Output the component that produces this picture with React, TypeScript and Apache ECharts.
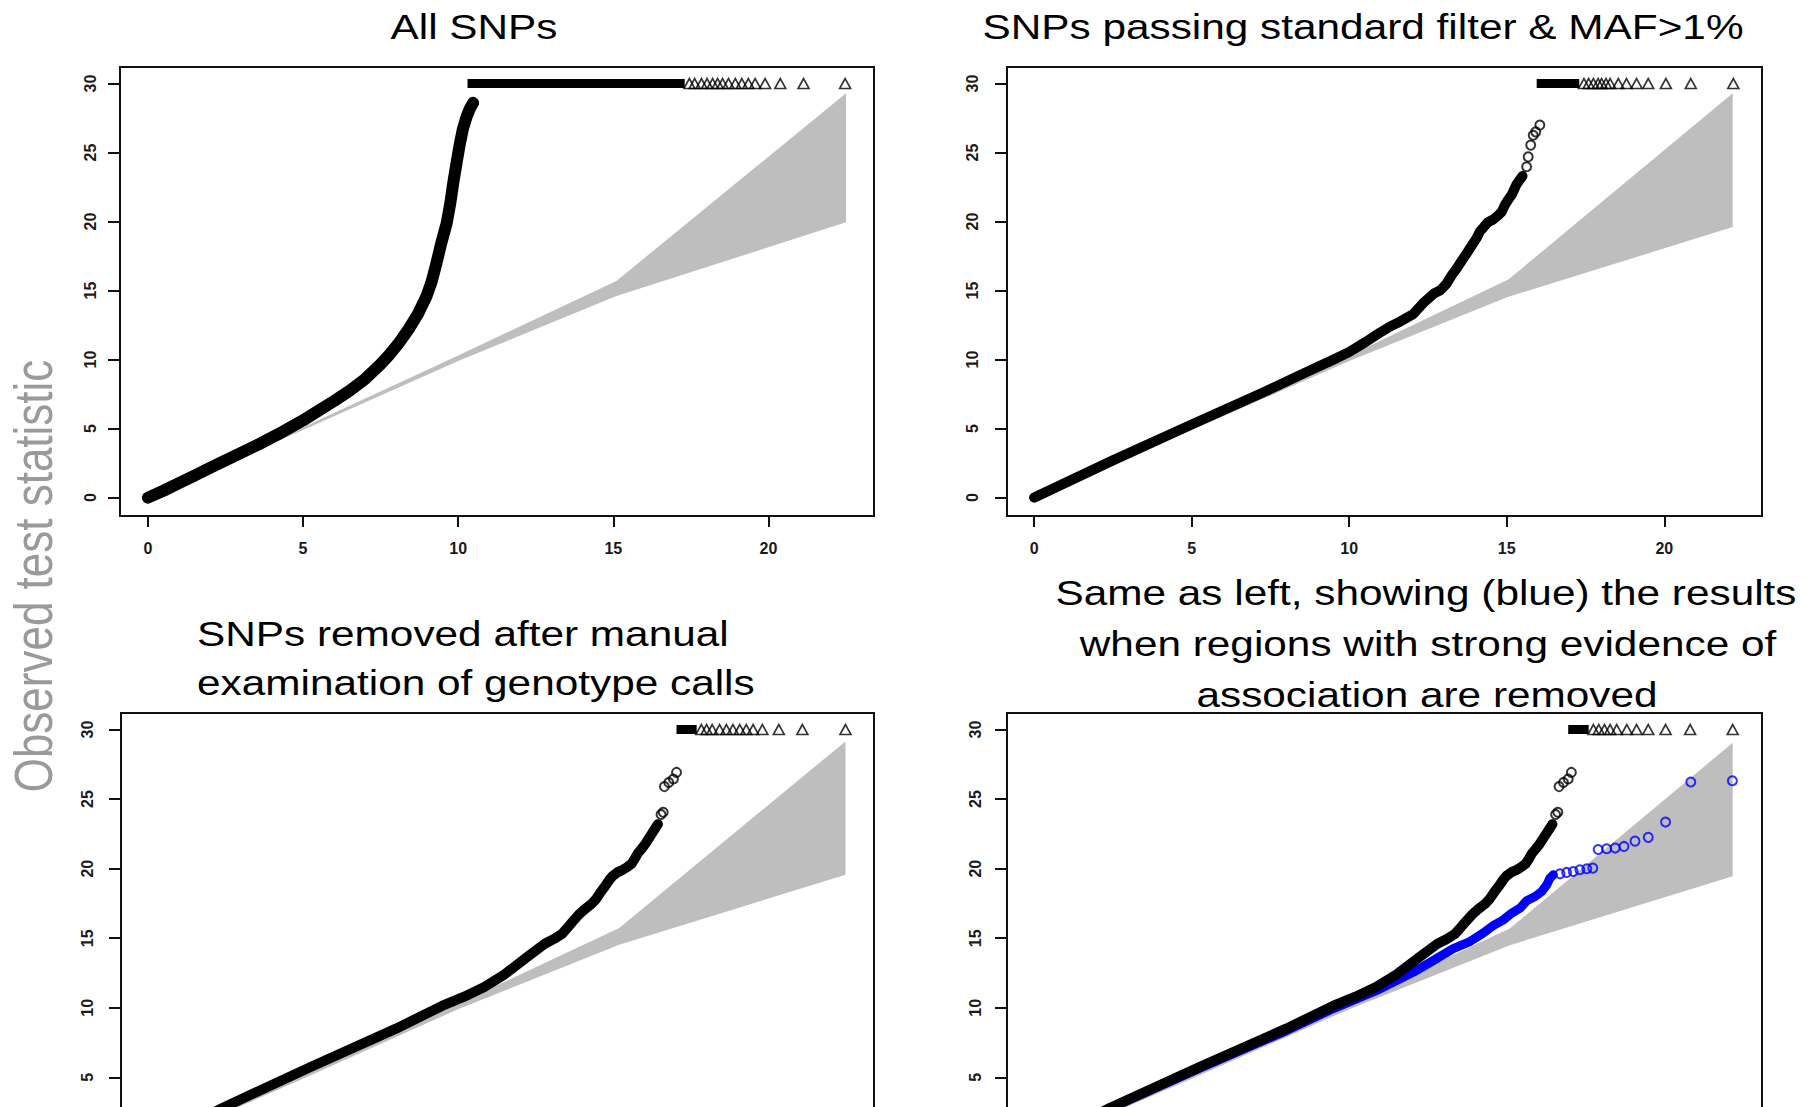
import React, { useEffect, useRef } from "react";
import * as echarts from "echarts";

const FONT = '"Liberation Sans", Arial, Helvetica, sans-serif';

// Tick positions shared by the four Q-Q panels
const xTickValues = [0, 5, 10, 15, 20];
const yTickValues = [0, 5, 10, 15, 20, 25, 30];
// The lower panels run past the bottom edge, so only these labels show
const yTickValuesLower = [5, 10, 15, 20, 25, 30];

// Statistics above this value are drawn as triangles on the cap line
const CAP = 30;

// Concentration band per panel: [expected, upper, lower]
const bandAll = [[0, 0, 0], [5, 5.1, 4.9], [10, 10.3, 9.9], [15.1, 15.7, 14.6], [22.5, 29.3, 19.95]];
const bandFiltered = [[0, 0, 0], [5, 5.1, 4.9], [10, 10.3, 9.9], [15.05, 15.8, 14.55], [22.17, 29.3, 19.6]];
const bandManual = [[0, 0, 0], [5, 5.1, 4.9], [10, 10.3, 9.9], [15.2, 15.73, 14.53], [22.5, 29.15, 19.56]];
const bandPruned = [[0, 0, 0], [5, 5.1, 4.9], [10, 10.3, 9.9], [15.1, 15.7, 14.5], [22.17, 29.05, 19.45]];

// All SNPs: observed vs expected
const allDense = [
  [0, 0], [0.5, 0.5], [1, 1.05], [1.5, 1.6], [2, 2.15], [2.5, 2.7], [3, 3.25], [3.6, 3.9],
  [4.2, 4.6], [4.6, 5.1], [5, 5.6], [5.5, 6.3], [6, 7.0], [6.5, 7.75], [7, 8.6], [7.47, 9.6],
  [7.8, 10.4], [8.12, 11.3], [8.4, 12.2], [8.7, 13.3], [8.98, 14.6], [9.15, 15.7], [9.3, 17.0],
  [9.45, 18.4], [9.63, 19.9], [9.75, 21.4], [9.84, 22.8], [9.95, 24.3], [10.05, 25.6],
  [10.15, 26.7], [10.27, 27.6], [10.38, 28.2], [10.48, 28.6],
];
const allCapRun = [10.3, 17.3];
const allCapped = [17.45, 17.62, 17.84, 18.02, 18.2, 18.36, 18.52, 18.71, 18.93, 19.14, 19.35, 19.57, 19.89, 20.38, 21.13, 22.47];

// SNPs passing standard filter & MAF>1%
const filteredDense = [
  [0, 0], [2.5, 2.7], [5, 5.3], [7.3, 7.65], [8.7, 9.15], [9.5, 10.0], [10, 10.55], [10.5, 11.25],
  [10.97, 11.95], [11.3, 12.4], [11.61, 12.75], [12.03, 13.3], [12.35, 14.1], [12.7, 14.8],
  [12.88, 15.0], [13.09, 15.5], [13.25, 16.1], [13.41, 16.6], [13.58, 17.2], [13.73, 17.7],
  [13.9, 18.3], [14.04, 18.8], [14.15, 19.3], [14.25, 19.55], [14.4, 19.95], [14.57, 20.15],
  [14.75, 20.5], [14.84, 20.7], [14.94, 21.2], [15.05, 21.6], [15.16, 21.95], [15.31, 22.7], [15.5, 23.3],
];
const filteredSparse = [[15.63, 23.97], [15.68, 24.69], [15.76, 25.54], [15.84, 26.26], [15.92, 26.5], [16.05, 26.99]];
const filteredCapRun = [15.95, 17.3];
const filteredCapped = [17.45, 17.6, 17.75, 17.9, 18.01, 18.15, 18.28, 18.54, 18.8, 19.12, 19.49, 20.05, 20.84, 22.19];

// After manual examination of genotype calls (black in both bottom panels)
const manualDense = [
  [0, 0], [2.4, 2.8], [5.3, 5.8], [8, 8.5], [9.5, 10.15], [10.2, 10.8], [10.85, 11.5], [11.5, 12.4],
  [12.2, 13.6], [12.5, 14.1], [12.8, 14.6], [13.1, 14.95], [13.35, 15.3], [13.55, 15.8], [13.7, 16.2],
  [13.9, 16.7], [14.1, 17.1], [14.3, 17.45], [14.45, 17.8], [14.6, 18.3], [14.75, 18.75],
  [14.9, 19.25], [15.0, 19.5], [15.15, 19.75], [15.3, 19.9], [15.45, 20.1], [15.6, 20.35],
  [15.7, 20.7], [15.8, 21.1], [15.95, 21.5], [16.05, 21.8], [16.15, 22.15], [16.25, 22.5],
  [16.35, 22.85], [16.45, 23.2],
];
const manualSparse = [[16.55, 23.9], [16.62, 24.05], [16.66, 25.9], [16.8, 26.2], [16.95, 26.45], [17.05, 26.92]];
const manualCapRunLeft = [17.05, 17.7];
const manualCappedLeft = [17.85, 18.02, 18.2, 18.44, 18.66, 18.87, 19.09, 19.3, 19.52, 19.82, 20.35, 21.11, 22.5];
const manualCapRunRight = [16.95, 17.6];
const manualCappedRight = [17.75, 17.92, 18.1, 18.28, 18.49, 18.81, 19.12, 19.49, 20.04, 20.82, 22.17];

// Strongly associated regions removed (blue)
const prunedDense = [
  [0, 0], [2.4, 2.75], [5.3, 5.7], [8, 8.35], [9.5, 9.95], [10.97, 11.35], [12.03, 12.55],
  [12.67, 13.4], [13.3, 14.25], [13.83, 14.76], [14.25, 15.37], [14.57, 15.9], [14.89, 16.32],
  [15.16, 16.81], [15.42, 17.16], [15.63, 17.7], [15.9, 18.0], [16.11, 18.36], [16.27, 18.84],
  [16.37, 19.32], [16.48, 19.56],
];
const prunedSparse = [
  [16.69, 19.63], [16.9, 19.73], [17.11, 19.8], [17.32, 19.92], [17.54, 19.99], [17.73, 20.04],
  [17.9, 21.38], [18.17, 21.43], [18.44, 21.48], [18.72, 21.6], [19.07, 21.98], [19.49, 22.25],
  [20.04, 23.35], [20.84, 26.23], [22.16, 26.32],
];

const titleAll = "All SNPs";
const titleFiltered = "SNPs passing standard filter & MAF>1%";
const titleManual = ["SNPs removed after manual", "examination of genotype calls"];
const titlePruned = [
  "Same as left, showing (blue) the results",
  "when regions with strong evidence of",
  "association are removed",
];
const yTitle = "Observed test statistic";

// Panel frames in pixels and the data window each one shows
const panels = [
  { left: 120, top: 67, width: 754, height: 449, xMin: -0.9, xMax: 23.4, yMin: -1.33, yMax: 31.2, yLabelMargin: 22, lower: false },
  { left: 1007, top: 67, width: 755, height: 449, xMin: -0.86, xMax: 23.1, yMin: -1.33, yMax: 31.2, yLabelMargin: 27, lower: false },
  { left: 121, top: 713, width: 753, height: 452, xMin: -0.87, xMax: 23.42, yMin: -1.3, yMax: 31.19, yLabelMargin: 26, lower: true },
  { left: 1007, top: 713, width: 755, height: 452, xMin: -0.86, xMax: 23.1, yMin: -1.3, yMax: 31.19, yLabelMargin: 24, lower: true },
];

function bandSeries(gi: number, band: number[][]) {
  const poly = band.map((b) => [b[0], b[1]]).concat(band.map((b) => [b[0], b[2]]).reverse());
  return {
    type: "custom",
    xAxisIndex: gi,
    yAxisIndex: gi,
    z: 1,
    silent: true,
    data: poly,
    renderItem: (params: any, api: any) => {
      if (params.dataIndex !== 0) return null;
      return {
        type: "polygon",
        shape: { points: poly.map((p) => api.coord(p)) },
        style: { fill: "#bebebe" },
      };
    },
  };
}

function denseLine(gi: number, pts: number[][], color: string, width: number, z = 3) {
  return {
    type: "line",
    xAxisIndex: gi,
    yAxisIndex: gi,
    data: pts,
    symbol: "none",
    silent: true,
    z,
    lineStyle: { color, width, cap: "round", join: "round" },
  };
}

function circles(gi: number, pts: number[][], color: string, z = 4) {
  return {
    type: "scatter",
    xAxisIndex: gi,
    yAxisIndex: gi,
    data: pts,
    symbol: "circle",
    symbolSize: 9,
    silent: true,
    z,
    itemStyle: { color: "rgba(255,255,255,0)", borderColor: color, borderWidth: 2 },
  };
}

function capSeries(gi: number, run: number[], capped: number[]) {
  return [
    {
      type: "line",
      xAxisIndex: gi,
      yAxisIndex: gi,
      data: run.map((x) => [x, CAP]),
      symbol: "none",
      silent: true,
      z: 5,
      lineStyle: { color: "#000", width: 9, cap: "butt" },
    },
    {
      type: "scatter",
      xAxisIndex: gi,
      yAxisIndex: gi,
      data: capped.map((x) => [x, CAP]),
      symbol: "triangle",
      symbolSize: [11, 10],
      silent: true,
      z: 5,
      itemStyle: { color: "rgba(255,255,255,0)", borderColor: "#000", borderWidth: 1.6 },
    },
  ];
}

function textEl(text: string, x: number, y: number, size: number, align: string, sx: number) {
  return {
    type: "text",
    x,
    y,
    scaleX: sx,
    silent: true,
    style: {
      text,
      x: 0,
      y: 0,
      fill: "#000",
      font: `${size}px ${FONT}`,
      align,
      textAlign: align,
      verticalAlign: "middle",
      textVerticalAlign: "middle",
    },
  };
}

export default function App() {
  const ref = useRef<HTMLDivElement>(null);

  useEffect(() => {
    if (!ref.current) return;
    const chart = echarts.init(ref.current, undefined, { renderer: "svg" });

    const tickFont = { fontSize: 16, fontWeight: "bold" as const, color: "#1a1a1a", fontFamily: FONT };

    const grids = panels.map((p) => ({
      left: p.left,
      top: p.top,
      width: p.width,
      height: p.height,
      show: true,
      borderColor: "#111",
      borderWidth: 2,
      backgroundColor: "rgba(0,0,0,0)",
      containLabel: false,
      outerBoundsMode: "none",
    }));

    const xAxes = panels.map((p, i) => ({
      type: "value",
      gridIndex: i,
      min: p.xMin,
      max: p.xMax,
      axisLine: { show: false, onZero: false },
      splitLine: { show: false },
      axisTick: { show: !p.lower, length: 11, customValues: xTickValues, lineStyle: { color: "#111", width: 2 } },
      axisLabel: { show: !p.lower, customValues: xTickValues, margin: 24, ...tickFont },
    }));

    const yAxes = panels.map((p, i) => ({
      type: "value",
      gridIndex: i,
      min: p.yMin,
      max: p.yMax,
      axisLine: { show: false, onZero: false },
      splitLine: { show: false },
      axisTick: {
        show: true,
        length: 12,
        customValues: p.lower ? yTickValuesLower : yTickValues,
        lineStyle: { color: "#111", width: 2 },
      },
      axisLabel: {
        show: true,
        customValues: p.lower ? yTickValuesLower : yTickValues,
        rotate: 90,
        margin: p.yLabelMargin,
        ...tickFont,
      },
    }));

    const series: any[] = [
      bandSeries(0, bandAll),
      denseLine(0, allDense, "#000", 12),
      ...capSeries(0, allCapRun, allCapped),

      bandSeries(1, bandFiltered),
      denseLine(1, filteredDense, "#000", 10),
      circles(1, filteredSparse, "#000"),
      ...capSeries(1, filteredCapRun, filteredCapped),

      bandSeries(2, bandManual),
      denseLine(2, manualDense, "#000", 10),
      circles(2, manualSparse, "#000"),
      ...capSeries(2, manualCapRunLeft, manualCappedLeft),

      bandSeries(3, bandPruned),
      denseLine(3, prunedDense, "#0000ff", 9, 2),
      circles(3, prunedSparse, "#0000ff", 2),
      denseLine(3, manualDense, "#000", 10),
      circles(3, manualSparse, "#000"),
      ...capSeries(3, manualCapRunRight, manualCappedRight),
    ];

    const TS = 35;
    const SX = 1.21;
    const graphics: any[] = [
      textEl(titleAll, 474, 27, TS, "center", SX),
      textEl(titleFiltered, 1363, 27, TS, "center", SX),
      textEl(titleManual[0], 197, 634, TS, "left", SX),
      textEl(titleManual[1], 197, 683, TS, "left", SX),
      textEl(titlePruned[0], 1426, 593, TS, "center", SX),
      textEl(titlePruned[1], 1428, 644, TS, "center", SX),
      textEl(titlePruned[2], 1427, 695, TS, "center", SX),
      {
        type: "text",
        x: 34,
        y: 576,
        rotation: Math.PI / 2,
        scaleY: 1.2,
        silent: true,
        style: {
          text: yTitle,
          x: 0,
          y: 0,
          fill: "#9a9a9a",
          font: `44px ${FONT}`,
          align: "center",
          textAlign: "center",
          verticalAlign: "middle",
          textVerticalAlign: "middle",
        },
      },
    ];

    chart.setOption({
      animation: false,
      backgroundColor: "#ffffff",
      grid: grids,
      xAxis: xAxes,
      yAxis: yAxes,
      series,
      graphic: { elements: graphics },
    });

    return () => chart.dispose();
  }, []);

  return (
    <div
      ref={ref}
      style={{ position: "absolute", left: 0, top: 0, width: 1806, height: 1107, overflow: "hidden", background: "#fff" }}
    />
  );
}
